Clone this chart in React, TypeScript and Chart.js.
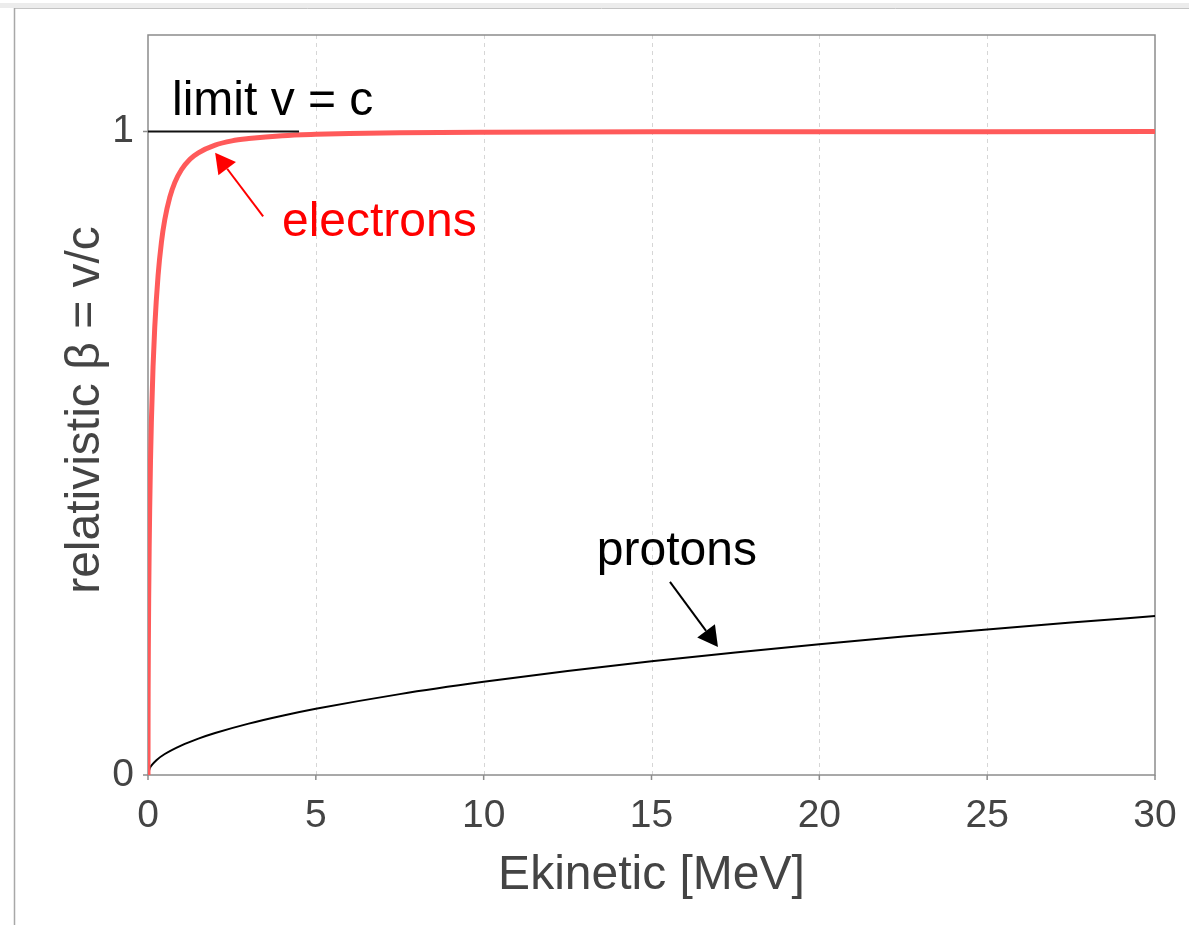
import React, { useEffect, useRef } from 'react';
import { Chart, registerables } from 'chart.js';

Chart.register(...registerables);

// Kinetic energy [MeV] and β = v/c
const electronEnergy = [0, 0.002, 0.005, 0.01, 0.02, 0.035, 0.05, 0.075, 0.1, 0.15, 0.2, 0.3, 0.4, 0.5, 0.65, 0.8, 1, 1.25, 1.5, 2, 2.5, 3, 4, 5, 6, 7.5, 10, 15, 20, 25, 30];
const electronBeta = [0, 0.088, 0.139, 0.195, 0.272, 0.352, 0.413, 0.490, 0.548, 0.634, 0.695, 0.776, 0.828, 0.863, 0.898, 0.921, 0.941, 0.957, 0.967, 0.979, 0.9855, 0.989, 0.9936, 0.9957, 0.9969, 0.998, 0.9988, 0.9995, 0.9997, 0.9998, 0.9999];

const protonEnergy = [0, 0.05, 0.1, 0.25, 0.5, 1, 1.5, 2, 3, 4, 5, 7.5, 10, 12.5, 15, 17.5, 20, 22.5, 25, 27.5, 30];
const protonBeta = [0, 0.0103, 0.0146, 0.0231, 0.0326, 0.0461, 0.0565, 0.0652, 0.0798, 0.0920, 0.1028, 0.1257, 0.1448, 0.1616, 0.1767, 0.1905, 0.2032, 0.2151, 0.2263, 0.2369, 0.2470];

const limitEnergy = [0, 4.5];
const limitBeta = [1, 1];

const xTickValues = [0, 5, 10, 15, 20, 25, 30];
const yTickValues = [0, 1];
const gridValues = [5, 10, 15, 20, 25];

const FONT = "'Liberation Sans', Arial, Helvetica, sans-serif";

// annotation placement (data coordinates)
const notes = {
  limit: { text: 'limit v = c', x: 0.715, y: 1.026, color: '#000' },
  electrons: { text: 'electrons', x: 3.99, y: 0.837, color: '#ff0000' },
  protons: { text: 'protons', x: 13.37, y: 0.327, color: '#000' },
};
const arrows = [
  { from: [3.43, 0.868], to: [2.0, 0.967], color: '#ff0000' },
  { from: [15.55, 0.3], to: [16.98, 0.199], color: '#000' },
];

const toPts = (xs: number[], ys: number[]) => xs.map((x, i) => ({ x, y: ys[i] }));

const decorPlugin = {
  id: 'decor',
  beforeDraw(chart: any) {
    const { ctx, width, height } = chart;
    ctx.save();
    ctx.fillStyle = '#ffffff';
    ctx.fillRect(0, 0, width, height);
    ctx.fillStyle = '#ececec';
    ctx.fillRect(0, 3, width, 5);
    ctx.strokeStyle = '#c4c4c4';
    ctx.lineWidth = 1;
    ctx.beginPath();
    ctx.moveTo(14, 8.5);
    ctx.lineTo(width, 8.5);
    ctx.stroke();
    ctx.strokeStyle = '#a8a8a8';
    ctx.lineWidth = 1.5;
    ctx.beginPath();
    ctx.moveTo(14.5, 8);
    ctx.lineTo(14.5, height);
    ctx.stroke();
    ctx.restore();
  },
  beforeDatasetsDraw(chart: any) {
    const { ctx, chartArea: a, scales } = chart;
    const xs = scales.x;
    const ys = scales.y;
    ctx.save();
    ctx.strokeStyle = '#d6d6d6';
    ctx.lineWidth = 1;
    ctx.setLineDash([4, 4]);
    gridValues.forEach((v) => {
      const px = Math.round(xs.getPixelForValue(v)) + 0.5;
      ctx.beginPath();
      ctx.moveTo(px, a.top);
      ctx.lineTo(px, a.bottom);
      ctx.stroke();
    });
    ctx.setLineDash([]);
    ctx.strokeStyle = '#8c8c8c';
    ctx.lineWidth = 1.5;
    ctx.strokeRect(a.left, a.top, a.right - a.left, a.bottom - a.top);
    ctx.beginPath();
    xTickValues.forEach((v) => {
      const px = xs.getPixelForValue(v);
      ctx.moveTo(px, a.bottom);
      ctx.lineTo(px, a.bottom + 5);
    });
    yTickValues.forEach((v) => {
      const py = ys.getPixelForValue(v);
      ctx.moveTo(a.left - 5, py);
      ctx.lineTo(a.left, py);
    });
    ctx.stroke();
    ctx.restore();
  },
  afterDatasetsDraw(chart: any) {
    const { ctx, chartArea: a, scales } = chart;
    const xs = scales.x;
    const ys = scales.y;
    ctx.save();
    ctx.font = `48px ${FONT}`;
    ctx.textBaseline = 'alphabetic';
    ctx.textAlign = 'left';
    Object.values(notes).forEach((n) => {
      ctx.fillStyle = n.color;
      ctx.fillText(n.text, xs.getPixelForValue(n.x), ys.getPixelForValue(n.y));
    });
    arrows.forEach((ar) => {
      const x1 = xs.getPixelForValue(ar.from[0]);
      const y1 = ys.getPixelForValue(ar.from[1]);
      const x2 = xs.getPixelForValue(ar.to[0]);
      const y2 = ys.getPixelForValue(ar.to[1]);
      const ang = Math.atan2(y2 - y1, x2 - x1);
      const hl = 20;
      const hw = 11;
      const bx = x2 - hl * Math.cos(ang);
      const by = y2 - hl * Math.sin(ang);
      ctx.strokeStyle = ar.color;
      ctx.fillStyle = ar.color;
      ctx.lineWidth = 2;
      ctx.beginPath();
      ctx.moveTo(x1, y1);
      ctx.lineTo(bx, by);
      ctx.stroke();
      ctx.beginPath();
      ctx.moveTo(x2, y2);
      ctx.lineTo(bx + hw * Math.sin(ang), by - hw * Math.cos(ang));
      ctx.lineTo(bx - hw * Math.sin(ang), by + hw * Math.cos(ang));
      ctx.closePath();
      ctx.fill();
    });
    // axis titles
    ctx.fillStyle = '#444444';
    ctx.textAlign = 'center';
    ctx.fillText('Ekinetic [MeV]', (a.left + a.right) / 2, 889);
    ctx.translate(99, (a.top + a.bottom) / 2 + 5);
    ctx.rotate(-Math.PI / 2);
    ctx.fillText('relativistic β = v/c', 0, 0);
    ctx.restore();
  },
};

export default function App() {
  const ref = useRef<HTMLCanvasElement | null>(null);
  useEffect(() => {
    if (!ref.current) return;
    const chart = new Chart(ref.current, {
      type: 'line',
      data: {
        datasets: [
          {
            label: 'limit',
            data: toPts(limitEnergy, limitBeta),
            borderColor: '#111111',
            borderWidth: 2,
            pointRadius: 0,
            order: 0,
          },
          {
            label: 'electrons',
            data: toPts(electronEnergy, electronBeta),
            borderColor: '#ff5a5a',
            borderWidth: 5,
            pointRadius: 0,
            cubicInterpolationMode: 'monotone',
            order: 1,
          },
          {
            label: 'protons',
            data: toPts(protonEnergy, protonBeta),
            borderColor: '#000000',
            borderWidth: 2,
            pointRadius: 0,
            cubicInterpolationMode: 'monotone',
            order: 2,
          },
        ],
      },
      options: {
        animation: false,
        responsive: false,
        devicePixelRatio: 1,
        layout: { padding: { top: 35, right: 34, left: 0, bottom: 0 } },
        plugins: { legend: { display: false }, tooltip: { enabled: false } },
        scales: {
          x: {
            type: 'linear',
            min: 0,
            max: 30,
            grid: { display: false, drawTicks: false },
            border: { display: false },
            ticks: {
              stepSize: 5,
              padding: 18,
              color: '#444444',
              font: { family: FONT, size: 39 },
              maxRotation: 0,
            },
            afterFit: (s: any) => {
              s.height = 150;
              s.paddingLeft = 0;
              s.paddingRight = 0;
            },
          },
          y: {
            type: 'linear',
            min: 0,
            max: 1.15,
            grid: { display: false, drawTicks: false },
            border: { display: false },
            ticks: {
              padding: 14,
              color: '#444444',
              font: { family: FONT, size: 39 },
            },
            afterBuildTicks: (s: any) => {
              s.ticks = yTickValues.map((v) => ({ value: v }));
            },
            afterFit: (s: any) => {
              s.width = 148;
              s.paddingTop = 0;
              s.paddingBottom = 0;
            },
          },
        },
      },
      plugins: [decorPlugin],
    });
    return () => chart.destroy();
  }, []);
  return (
    <div style={{ position: 'fixed', left: 0, top: 0, width: 1189, height: 925 }}>
      <canvas ref={ref} width={1189} height={925} style={{ display: 'block' }} />
    </div>
  );
}
